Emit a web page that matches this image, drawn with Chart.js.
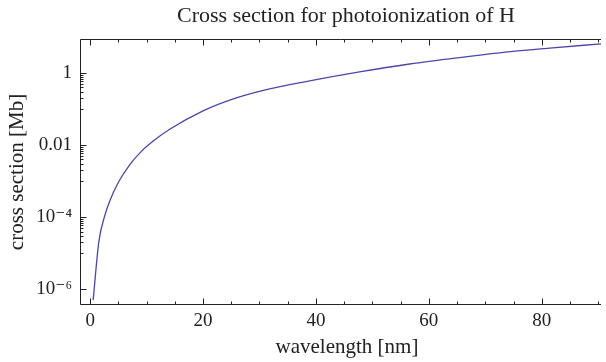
<!DOCTYPE html>
<html>
<head>
<meta charset="utf-8">
<script src="https://cdn.jsdelivr.net/npm/chart.js@4"></script>
<style>
  html, body { margin: 0; background: #fff; }
  #wrap { width: 606px; height: 362px; }
</style>
</head>
<body>
<div id="wrap"><canvas id="chart" width="606" height="362"></canvas></div>
<script>
// values
const wavelengths = [0.53, 1.54, 2.55, 3.54, 5.03, 6.97, 9.03, 11.4, 14.1, 20.0, 25.9, 31.8, 38.9, 47.7, 56.6, 65.4, 72.5, 81.4, 90.5];
const crossSection = [5.0e-7, 2.1e-5, 1.05e-4, 3.0e-4, 9.5e-4, 2.8e-3, 6.6e-3, 0.0138, 0.0275, 0.089, 0.204, 0.363, 0.603, 1.07, 1.78, 2.69, 3.63, 4.9, 6.46];
const xMajor = [0, 20, 40, 60, 80];
const yMajor = [1e-6, 1e-4, 1e-2, 1];
const yLabels = ['10⁻⁶', '10⁻⁴', '0.01', '1'];

const titleText = 'Cross section for photoionization of H';
const xTitle = 'wavelength [nm]';
const yTitle = 'cross section [Mb]';

const serif = '"Liberation Serif", "DejaVu Serif", serif';
const ink = '#222';

// frame, inward ticks and the two horizontal titles
const framePlugin = {
  id: 'frame',
  afterDraw(chart) {
    const { ctx, chartArea: a, scales: { x, y } } = chart;
    const L = a.left + 0.5, T = a.top + 0.5, B = a.bottom - 0.5, R = a.right;
    ctx.save();
    ctx.strokeStyle = ink;
    ctx.lineWidth = 1;
    ctx.beginPath();
    ctx.moveTo(R, T); ctx.lineTo(L, T); ctx.lineTo(L, B); ctx.lineTo(R, B);

    for (let v = 0; v <= x.max; v += 5) {
      const px = Math.round(x.getPixelForValue(v)) + 0.5;
      const len = v % 20 === 0 ? 6 : 3;
      ctx.moveTo(px, B); ctx.lineTo(px, B - len);
      ctx.moveTo(px, T); ctx.lineTo(px, T + len);
    }

    yMajor.forEach(m => {
      const py = Math.round(y.getPixelForValue(m)) + 0.5;
      ctx.moveTo(L, py); ctx.lineTo(L + 6, py);
      if (m < 1e-5) return;
      for (let n = 1; n <= 9; n++) {
        const my = Math.round(y.getPixelForValue(n * m / 10)) + 0.5;
        ctx.moveTo(L, my); ctx.lineTo(L + 3, my);
      }
    });
    ctx.stroke();

    ctx.fillStyle = ink;
    ctx.textAlign = 'center';
    ctx.textBaseline = 'alphabetic';
    ctx.font = '22px ' + serif;
    ctx.fillText(titleText, 346, 22);
    ctx.font = '21px ' + serif;
    ctx.fillText(xTitle, 347, 353);
    ctx.restore();
  }
};

new Chart(document.getElementById('chart'), {
  type: 'line',
  data: {
    datasets: [{
      data: wavelengths.map((w, i) => ({ x: w, y: crossSection[i] })),
      borderColor: '#4b47a6',
      borderWidth: 1.3,
      pointRadius: 0,
      cubicInterpolationMode: 'monotone',
      fill: false
    }]
  },
  options: {
    responsive: false,
    animation: false,
    devicePixelRatio: 1,
    layout: { padding: { top: 39, right: 5, left: 0, bottom: 0 } },
    plugins: { legend: { display: false }, tooltip: { enabled: false } },
    scales: {
      x: {
        type: 'linear',
        min: -1.8,
        max: 90.5,
        grid: { display: false, drawTicks: false },
        border: { display: false },
        afterBuildTicks: s => { s.ticks = xMajor.map(v => ({ value: v })); },
        ticks: { font: { family: serif, size: 19 }, color: ink, padding: 5, maxRotation: 0 },
        afterFit: s => { s.height = 57; }
      },
      y: {
        type: 'logarithmic',
        min: 3.66e-7,
        max: 8.8,
        grid: { display: false, drawTicks: false },
        border: { display: false },
        afterBuildTicks: s => { s.ticks = yMajor.map(v => ({ value: v })); },
        ticks: {
          font: { family: serif, size: 19 },
          color: ink,
          padding: 8,
          callback: (v, i) => yLabels[i]
        },
        title: {
          display: true,
          text: yTitle,
          color: ink,
          font: { family: serif, size: 21 },
          padding: { top: 5, bottom: 0 }
        },
        afterFit: s => { s.width = 80; }
      }
    }
  },
  plugins: [framePlugin]
});
</script>
</body>
</html>
